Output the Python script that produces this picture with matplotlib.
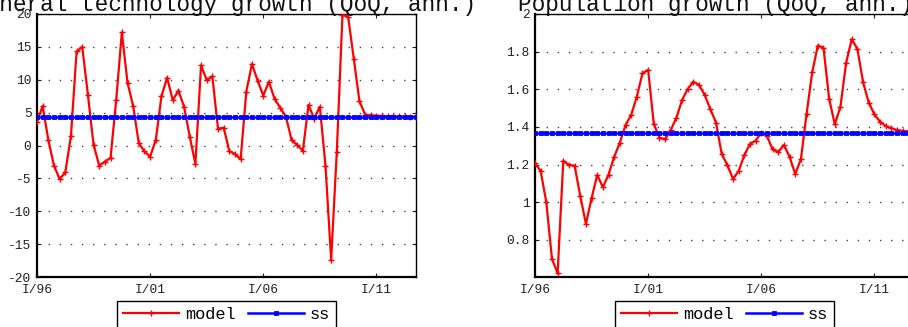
import numpy as np
import matplotlib
matplotlib.use("Agg")
import matplotlib.pyplot as plt
from matplotlib.ticker import FormatStrFormatter

# Quarterly series, 1996Q1 onwards
tech_model = [3.6, 6.0, 0.85, -3.07, -5.1, -4.1, 1.45, 14.3, 15.0, 7.7,
              0.1, -3.07, -2.45, -1.9, 6.9, 17.2, 9.55, 6.0, 0.33, -0.9,
              -1.7, 0.85, 7.5, 10.3, 6.9, 8.35, 5.9, 1.35, -2.8, 12.2,
              9.95, 10.5, 2.56, 2.7, -0.84, -1.3, -2.1, 8.2, 12.4, 9.86,
              7.6, 9.7, 7.07, 5.75, 4.4, 0.84, 0.08, -0.79, 6.16, 4.08,
              5.9, -3.07, -17.4, -0.95, 19.85, 19.6, 13.2, 6.77, 4.7, 4.6,
              4.55, 4.5, 4.47, 4.45, 4.43, 4.42, 4.41, 4.4]
tech_ss = 4.33

pop_model = [1.207, 1.166, 1.0, 0.699, 0.623, 1.221, 1.198, 1.195, 1.033, 0.885,
             1.021, 1.145, 1.08, 1.147, 1.242, 1.317, 1.41, 1.464, 1.561, 1.685,
             1.703, 1.416, 1.343, 1.335, 1.384, 1.449, 1.543, 1.602, 1.64, 1.623,
             1.57, 1.494, 1.423, 1.257, 1.198, 1.124, 1.166, 1.25, 1.31, 1.327,
             1.37, 1.352, 1.281, 1.267, 1.304, 1.242, 1.15, 1.228, 1.467, 1.69,
             1.832, 1.821, 1.549, 1.414, 1.508, 1.741, 1.866, 1.814, 1.637, 1.529,
             1.467, 1.428, 1.405, 1.393, 1.384, 1.379, 1.376, 1.374]
pop_ss = 1.37

tick_labels = ["I/96", "I/01", "I/06", "I/11"]
titles = ["General technology growth (QoQ, ann.)", "Population growth (QoQ, ann.)"]

FONT = "Liberation Mono"
plt.rcParams["font.family"] = [FONT, "DejaVu Sans"]

W, H = 908, 327
fig = plt.figure(figsize=(W / 100, H / 100), dpi=100)


def px_axes(x0, y_top, w, h):
    return fig.add_axes([x0 / W, 1 - (y_top + h) / H, w / W, h / H])


def draw_panel(ax, model, ss, ylim, yticks, fmt):
    t = np.arange(len(model))
    ax.plot(t, model, color="#ff0000", lw=1.6, marker="+", ms=4, mew=1.0,
            label="model", zorder=3)
    ax.plot(t, np.full(len(model), ss), color="#0000ff", lw=1.8, marker="s",
            ms=2.6, mew=0.6, label="ss", zorder=4)
    ax.set_xlim(0, len(model) - 1)
    ax.set_ylim(*ylim)
    ax.set_yticks(yticks)
    ax.yaxis.set_major_formatter(FormatStrFormatter(fmt))
    ax.set_xticks(np.arange(len(tick_labels)) * 20)
    ax.set_xticklabels(tick_labels)
    ax.tick_params(direction="in", length=3, width=0.8, top=True, right=True,
                   labelsize=9.3, colors="#222222", pad=4)
    ax.tick_params(axis="x", pad=5)
    ax.yaxis.grid(True, color="#444444", lw=1.0, linestyle=(0, (1, 7)))
    ax.xaxis.grid(False)
    for side, sp in ax.spines.items():
        sp.set_color("black")
        sp.set_linewidth(1.6 if side in ("left", "bottom") else 1.0)
    leg = ax.legend(loc="upper center", bbox_to_anchor=(0.5, -0.092), ncol=2,
                    fontsize=12.2, frameon=True, fancybox=False, edgecolor="black",
                    framealpha=1, handlelength=3.3, handletextpad=0.35,
                    columnspacing=0.75, borderpad=0.35, numpoints=1,
                    borderaxespad=0)
    leg.get_frame().set_linewidth(1.0)


ax1 = px_axes(37, 14, 379, 263)
draw_panel(ax1, tech_model, tech_ss, (-20, 20), np.arange(-20, 21, 5), "%g")

ax2 = px_axes(535, 14, 379, 263)
draw_panel(ax2, pop_model, pop_ss, (0.603, 2.0), [0.8, 1.0, 1.2, 1.4, 1.6, 1.8, 2.0], "%g")

fig.text(476 / W, 1 - 11 / H, titles[0], ha="right", va="baseline",
         fontsize=16.4, color="#111111")
fig.text(518 / W, 1 - 11 / H, titles[1], ha="left", va="baseline",
         fontsize=16.4, color="#111111")

fig.savefig("out.png", dpi=100)
